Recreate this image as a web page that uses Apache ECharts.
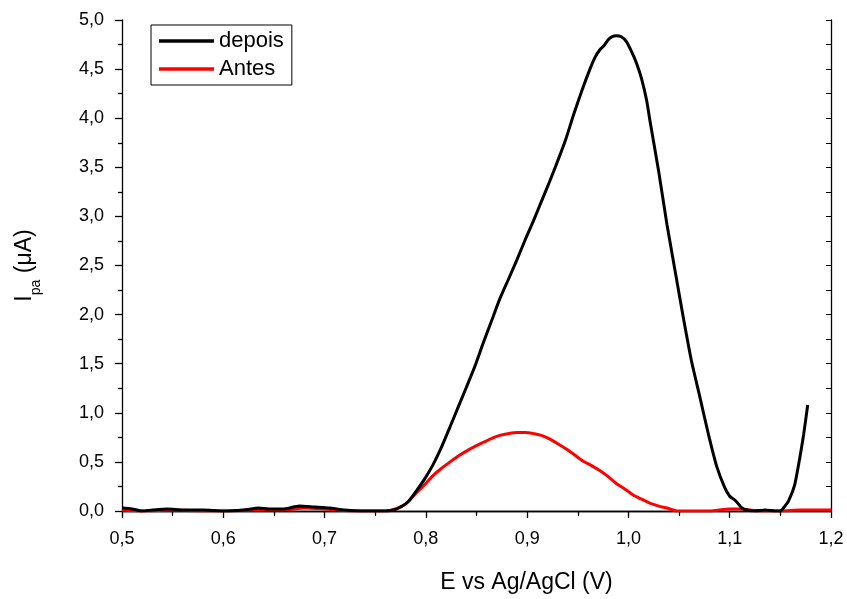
<!DOCTYPE html>
<html>
<head>
<meta charset="utf-8">
<script src="https://cdn.jsdelivr.net/npm/echarts@6/dist/echarts.min.js"></script>
<style>html,body{margin:0;padding:0;background:#fff}#c{width:847px;height:599px}</style>
</head>
<body>
<div id="c"></div>
<script>
// depois (black)
var xDepois = [0.5,0.51,0.52,0.53,0.545,0.56,0.58,0.6,0.62,0.635,0.645,0.66,0.675,0.69,0.705,0.72,0.74,0.76,0.768,0.775,0.783,0.791,0.799,0.807,0.815,0.824,0.832,0.840,0.849,0.857,0.865,0.873,0.882,0.890,0.898,0.906,0.914,0.922,0.930,0.938,0.946,0.954,0.962,0.967,0.972,0.976,0.980,0.984,0.988,0.993,0.998,1.003,1.008,1.013,1.018,1.021,1.030,1.038,1.046,1.054,1.062,1.071,1.079,1.087,1.095,1.100,1.104,1.108,1.112,1.117,1.125,1.135,1.145,1.150,1.153,1.158,1.164,1.169,1.173,1.177];
var yDepois = [0.03,0.02,0.0,0.01,0.02,0.01,0.01,0.0,0.01,0.03,0.02,0.02,0.05,0.04,0.03,0.01,0.0,0.0,0.01,0.04,0.10,0.21,0.33,0.47,0.64,0.86,1.06,1.26,1.49,1.72,1.94,2.16,2.37,2.56,2.76,2.95,3.15,3.35,3.56,3.78,4.04,4.28,4.50,4.62,4.70,4.74,4.80,4.83,4.84,4.83,4.78,4.68,4.56,4.40,4.18,3.99,3.45,2.92,2.45,1.98,1.54,1.14,0.78,0.46,0.24,0.15,0.12,0.08,0.03,0.01,0.0,0.01,0.0,0.0,0.03,0.10,0.26,0.53,0.78,1.08];
// Antes (red)
var xAntes = [0.5,0.52,0.55,0.58,0.6,0.63,0.66,0.68,0.7,0.73,0.76,0.77,0.78,0.791,0.799,0.807,0.815,0.824,0.832,0.840,0.849,0.857,0.865,0.873,0.882,0.890,0.898,0.906,0.914,0.923,0.931,0.939,0.947,0.955,0.964,0.972,0.980,0.988,0.997,1.005,1.013,1.021,1.030,1.038,1.048,1.060,1.080,1.100,1.110,1.130,1.150,1.170,1.200];
var yAntes = [0.01,0.0,0.01,0.0,0.0,0.01,0.01,0.03,0.02,0.0,0.0,0.02,0.07,0.19,0.27,0.36,0.43,0.50,0.56,0.61,0.66,0.70,0.74,0.77,0.79,0.80,0.80,0.79,0.77,0.73,0.68,0.63,0.57,0.51,0.46,0.41,0.35,0.28,0.22,0.16,0.12,0.08,0.05,0.03,0.0,0.0,0.0,0.02,0.02,0.0,0.0,0.01,0.01];

var seriesNames = ['depois','Antes'];
var xTitle = 'E vs Ag/AgCl (V)';

function zip(a,b){return a.map(function(v,i){return [v,b[i]];});}
function fmt(v){return v.toFixed(1).replace('.',',');}

var FONT = '"Liberation Sans", Arial, sans-serif';
var chart = echarts.init(document.getElementById('c'), null, {renderer:'canvas'});
var axisCommon = {
  axisLine:{show:true,lineStyle:{color:'#000',width:1.3}},
  splitLine:{show:false},
  minorSplitLine:{show:false}
};
chart.setOption({
  animation:false,
  backgroundColor:'#fff',
  textStyle:{fontFamily:FONT},
  grid:{left:122,right:16,top:20,bottom:83,containLabel:false},
  legend:{
    data:seriesNames,
    left:151, top:25,
    orient:'vertical',
    icon:'rect',
    itemWidth:55, itemHeight:3.5,
    itemGap:6,
    padding:[5,8,5,8],
    borderColor:'#000', borderWidth:1,
    textStyle:{fontFamily:FONT,fontSize:22,color:'#000',width:72}
  },
  xAxis:[
    Object.assign({}, axisCommon, {
      type:'value', min:0.5, max:1.2, interval:0.1, position:'bottom',
      name:xTitle, nameLocation:'middle', nameGap:60,
      nameTextStyle:{fontFamily:FONT,fontSize:23,color:'#000',padding:[0,0,0,100]},
      axisTick:{show:true,inside:false,length:7,lineStyle:{color:'#000',width:1.3}},
      minorTick:{show:true,splitNumber:2,length:4,lineStyle:{color:'#000',width:1.3}},
      axisLabel:{fontFamily:FONT,fontSize:18,color:'#000',margin:19,formatter:fmt}
    }),
    Object.assign({}, axisCommon, {
      type:'value', min:0.5, max:1.2, interval:0.1, position:'top',
      axisTick:{show:true,inside:true,length:5,lineStyle:{color:'#000',width:1}},
      minorTick:{show:true,splitNumber:2,length:5,lineStyle:{color:'#000',width:1}},
      axisLabel:{show:false}
    })
  ],
  yAxis:[
    Object.assign({}, axisCommon, {
      type:'value', min:0, max:5, interval:0.5, position:'left',
      name:'{i|I}{s|pa}{i| (μA)}', nameLocation:'middle', nameGap:86, nameRotate:90,
      nameTextStyle:{fontFamily:FONT,color:'#000',rich:{
        i:{fontFamily:FONT,fontSize:23,color:'#000',verticalAlign:'bottom',lineHeight:25},
        s:{fontFamily:FONT,fontSize:14,color:'#000',verticalAlign:'bottom',lineHeight:25,padding:[0,0,-7,0]}
      }},
      axisTick:{show:true,inside:false,length:7,lineStyle:{color:'#000',width:1.3}},
      minorTick:{show:true,splitNumber:2,length:4,lineStyle:{color:'#000',width:1.3}},
      axisLabel:{fontFamily:FONT,fontSize:18,color:'#000',margin:18,formatter:fmt}
    }),
    Object.assign({}, axisCommon, {
      type:'value', min:0, max:5, interval:0.5, position:'right',
      axisTick:{show:true,inside:true,length:5,lineStyle:{color:'#000',width:1}},
      minorTick:{show:true,splitNumber:2,length:5,lineStyle:{color:'#000',width:1}},
      axisLabel:{show:false}
    })
  ],
  series:[
    {name:'Antes',type:'line',xAxisIndex:0,yAxisIndex:0,data:zip(xAntes,yAntes),
     showSymbol:false,symbol:'none',smooth:0.2,lineStyle:{color:'#ff0000',width:3},itemStyle:{color:'#ff0000'},z:2},
    {name:'depois',type:'line',xAxisIndex:0,yAxisIndex:0,data:zip(xDepois,yDepois),
     showSymbol:false,symbol:'none',smooth:0.2,lineStyle:{color:'#000',width:3},itemStyle:{color:'#000'},z:3}
  ]
});
</script>
</body>
</html>
